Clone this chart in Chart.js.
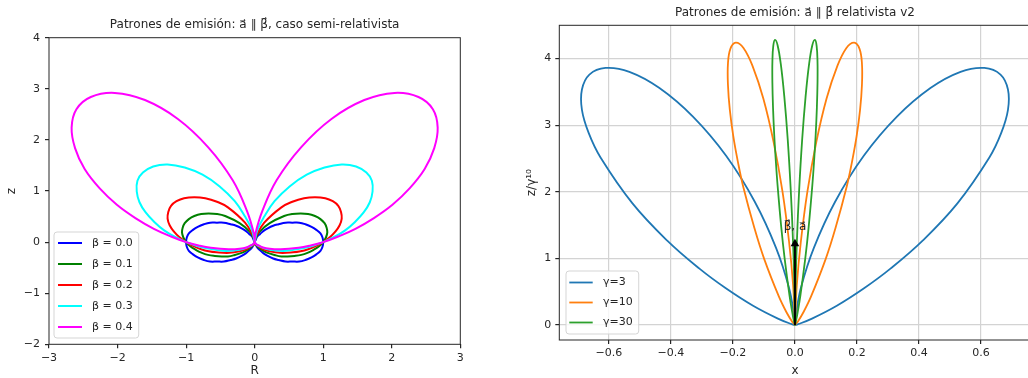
<!DOCTYPE html>
<html>
<head>
<meta charset="utf-8">
<script src="https://cdn.jsdelivr.net/npm/chart.js@4.4.1/dist/chart.umd.min.js"></script>
<style>
  html, body { margin: 0; padding: 0; background: #fff; overflow: hidden; width: 1028px; height: 378px; }
  canvas { position: absolute; top: 0; }
  #semiChart { left: 0; }
  #relChart { left: 500px; }
</style>
</head>
<body>
<canvas id="semiChart" width="500" height="378"></canvas>
<canvas id="relChart" width="540" height="378"></canvas>
<script>
/* ── Emission patterns, a ∥ β — two panels ── */

Chart.defaults.font.family = "'DejaVu Sans', sans-serif";
Chart.defaults.font.size = 11;
Chart.defaults.color = '#262626';

// left panel: right-hand lobe of each curve (R >= 0), the left lobe is its mirror
const BETA = [0.0, 0.1, 0.2, 0.3, 0.4];
const R_B0 = [0, 0.00, 0.01, 0.02, 0.04, 0.08, 0.13, 0.19, 0.27, 0.35, 0.45, 0.55, 0.65, 0.74, 0.83, 0.90, 0.96, 0.99, 1.00,
              0.99, 0.96, 0.90, 0.83, 0.74, 0.65, 0.55, 0.45, 0.35, 0.27, 0.19, 0.13, 0.08, 0.04, 0.02, 0.01, 0.00, 0];
const Z_B0 = [0, 0.01, 0.03, 0.06, 0.11, 0.16, 0.22, 0.27, 0.32, 0.35, 0.38, 0.38, 0.38, 0.35, 0.30, 0.24, 0.17, 0.09, 0,
              -0.09, -0.17, -0.24, -0.30, -0.35, -0.38, -0.38, -0.38, -0.35, -0.32, -0.27, -0.22, -0.16, -0.11, -0.06, -0.03, -0.01, 0];
const R_B1 = [0, 0.01, 0.07, 0.22, 0.43, 0.55, 0.67, 0.78, 0.88, 0.96, 1.02, 1.05, 1.06, 1.04, 1.00,
              0.94, 0.86, 0.77, 0.68, 0.58, 0.48, 0.39, 0.31, 0.17, 0.08, 0.02, 0.00, 0];
const Z_B1 = [0, 0.06, 0.20, 0.37, 0.51, 0.55, 0.56, 0.55, 0.51, 0.45, 0.37, 0.28, 0.19, 0.09, 0,
              -0.08, -0.15, -0.21, -0.25, -0.27, -0.28, -0.28, -0.26, -0.20, -0.13, -0.06, -0.02, 0];
const R_B2 = [0, 0.02, 0.14, 0.39, 0.55, 0.72, 0.88, 1.03, 1.14, 1.22, 1.26, 1.27, 1.24, 1.18, 1.10, 1.00,
              0.89, 0.78, 0.67, 0.56, 0.37, 0.22, 0.11, 0.05, 0.01, 0.00, 0];
const Z_B2 = [0, 0.11, 0.38, 0.68, 0.79, 0.86, 0.88, 0.86, 0.80, 0.71, 0.59, 0.46, 0.33, 0.21, 0.10, 0,
              -0.08, -0.14, -0.18, -0.20, -0.21, -0.18, -0.13, -0.08, -0.04, -0.01, 0];
const R_B3 = [0, 0.04, 0.14, 0.29, 0.51, 0.76, 1.02, 1.27, 1.48, 1.63, 1.71, 1.72, 1.68, 1.59, 1.46, 1.32, 1.16, 1.00,
              0.85, 0.70, 0.46, 0.28, 0.16, 0.08, 0.03, 0.01, 0.00, 0];
const Z_B3 = [0, 0.24, 0.50, 0.80, 1.09, 1.32, 1.46, 1.52, 1.48, 1.36, 1.20, 0.99, 0.78, 0.58, 0.39, 0.23, 0.10, 0,
              -0.07, -0.12, -0.17, -0.16, -0.13, -0.09, -0.05, -0.02, -0.01, 0];
const R_B4 = [0, 0.01, 0.11, 0.32, 0.68, 1.12, 1.60, 2.04, 2.39, 2.60, 2.67, 2.62, 2.48, 2.26, 2.01, 1.74, 1.47, 1.22, 1.00,
              0.80, 0.64, 0.38, 0.22, 0.11, 0.05, 0.02, 0.01, 0.00, 0];
const Z_B4 = [0, 0.16, 0.60, 1.21, 1.86, 2.41, 2.78, 2.92, 2.84, 2.60, 2.24, 1.84, 1.43, 1.05, 0.73, 0.47, 0.26, 0.11, 0,
              -0.07, -0.11, -0.14, -0.13, -0.10, -0.06, -0.04, -0.02, 0.00, 0];
const R_TICKS = [-3, -2, -1, 0, 1, 2, 3];
const Z_TICKS = [-2, -1, 0, 1, 2, 3, 4];

// right panel: right-hand lobe (x >= 0) for each gamma
const GAMMA = [3, 10, 30];
const X_G3 = [0, 0.003, 0.019, 0.061, 0.130, 0.222, 0.329, 0.437, 0.534, 0.611, 0.663, 0.687, 0.687, 0.665, 0.627, 0.524, 0.411, 0.308, 0.224, 0.135, 0.055, 0.010, 0];
const Z_G3 = [0, 0.145, 0.555, 1.158, 1.855, 2.542, 3.130, 3.559, 3.802, 3.860, 3.760, 3.536, 3.231, 2.880, 2.515, 1.826, 1.263, 0.846, 0.555, 0.289, 0.096, 0.012, 0];
const X_G10 = [0, 0.006, 0.019, 0.040, 0.069, 0.102, 0.136, 0.166, 0.191, 0.208, 0.216, 0.216, 0.210, 0.199, 0.184, 0.167, 0.131, 0.099, 0.052, 0.026, 0.009, 0.003, 0];
const Z_G10 = [0, 0.60, 1.25, 2.00, 2.75, 3.40, 3.88, 4.16, 4.24, 4.15, 3.93, 3.60, 3.23, 2.84, 2.45, 2.08, 1.46, 0.99, 0.43, 0.18, 0.05, 0.02, 0];
const X_G30 = [0, 0.0020, 0.0063, 0.0135, 0.0232, 0.0343, 0.0457, 0.0560, 0.0643, 0.0699, 0.0727, 0.0728, 0.0707, 0.0669, 0.0618, 0.0561, 0.0442, 0.0333, 0.0175, 0.0087, 0.0030, 0.0011, 0];
const Z_G30 = [0, 0.60, 1.26, 2.02, 2.78, 3.43, 3.92, 4.20, 4.28, 4.19, 3.96, 3.64, 3.26, 2.86, 2.47, 2.10, 1.47, 1.00, 0.44, 0.19, 0.05, 0.02, 0];
const X_TICKS = [-0.6, -0.4, -0.2, 0, 0.2, 0.4, 0.6];
const ZG_TICKS = [0, 1, 2, 3, 4];
const ARROW_Z = [0, 1.22];
const ARROW_TEXT_Z = 1.47;

const fmt = (v, d) => (v < 0 ? '\u2212' : '') + Math.abs(v).toFixed(d);

// lobe on the right + its mirror image on the left, as one path through the origin
function bothLobes(xs, zs) {
  const right = xs.map((x, i) => ({ x, y: zs[i] }));
  const left = right.slice(0, -1).reverse().map(p => ({ x: -p.x, y: p.y }));
  return right.concat(left);
}

const framePlugin = {
  id: 'frame',
  afterDatasetsDraw(chart) {
    const { ctx, chartArea: a } = chart;
    ctx.save();
    ctx.strokeStyle = '#262626';
    ctx.lineWidth = 1;
    ctx.strokeRect(a.left, a.top, a.right - a.left, a.bottom - a.top);
    ctx.restore();
  },
};

const boxLegend = {
  id: 'boxLegend',
  afterDraw(chart, args, o) {
    const { ctx, chartArea: a } = chart;
    const items = chart.data.datasets.filter(d => d.label);
    ctx.save();
    ctx.font = "11px 'DejaVu Sans'";
    const tw = Math.max(...items.map(d => ctx.measureText(d.label).width));
    const w = o.textX + tw + 6;
    const h = o.first * 2 + o.row * (items.length - 1);
    const x0 = a.left + o.dx, y0 = a.bottom - o.dy - h;
    ctx.fillStyle = 'rgba(255,255,255,0.8)';
    ctx.strokeStyle = '#d5d5d5';
    ctx.lineWidth = 1;
    ctx.beginPath();
    ctx.roundRect(x0, y0, w, h, 3);
    ctx.fill();
    ctx.stroke();
    items.forEach((d, i) => {
      const y = y0 + o.first + i * o.row;
      ctx.strokeStyle = d.borderColor;
      ctx.lineWidth = d.borderWidth;
      ctx.beginPath();
      ctx.moveTo(x0 + o.line[0], y);
      ctx.lineTo(x0 + o.line[1], y);
      ctx.stroke();
      ctx.fillStyle = '#262626';
      ctx.textBaseline = 'middle';
      ctx.fillText(d.label, x0 + o.textX, y);
    });
    ctx.restore();
  },
};

const arrowText = {
  id: 'arrowText',
  afterDatasetsDraw(chart, args, o) {
    if (!o.text) return;
    const { ctx, scales } = chart;
    ctx.save();
    ctx.font = "12px 'DejaVu Sans'";
    ctx.fillStyle = '#262626';
    ctx.textAlign = 'center';
    ctx.textBaseline = 'middle';
    ctx.fillText(o.text, scales.x.getPixelForValue(0), scales.y.getPixelForValue(o.z));
    ctx.restore();
  },
};

function axis(opts) {
  return {
    type: 'linear',
    min: opts.min, max: opts.max,
    afterBuildTicks: s => { s.ticks = opts.ticks.map(v => ({ value: v })); },
    afterFit: s => { if (opts.width) s.width = opts.width; if (opts.height) s.height = opts.height; },
    ticks: { padding: opts.pad, callback: v => fmt(v, opts.dec), color: '#262626' },
    grid: {
      drawOnChartArea: !!opts.grid,
      color: '#d3d3d3', lineWidth: 1.2,
      tickLength: 4, tickColor: '#262626',
    },
    border: { display: false },
    title: {
      display: true, text: opts.title,
      font: { size: 12 }, color: '#262626',
      padding: { top: opts.titlePad || 0, bottom: 0 },
    },
  };
}

function buildChart(canvasId, cfg) {
  new Chart(document.getElementById(canvasId), {
    type: 'scatter',
    data: { datasets: cfg.datasets },
    options: {
      responsive: false,
      animation: false,
      layout: { padding: { left: 0, top: 0, bottom: 0, right: cfg.padRight } },
      plugins: {
        legend: { display: false },
        tooltip: { enabled: false },
        title: {
          display: true, text: cfg.title, fullSize: false,
          font: { size: 12, weight: 'normal' }, color: '#262626',
          padding: cfg.titlePad,
        },
        boxLegend: cfg.legend,
        arrowText: cfg.arrow || {},
      },
      scales: { x: cfg.x, y: cfg.y },
    },
    plugins: [framePlugin, arrowText, boxLegend],
  });
}

const semiColors = ['#0000ff', '#008000', '#ff0000', '#00ffff', '#ff00ff'];
const semiR = [R_B0, R_B1, R_B2, R_B3, R_B4];
const semiZ = [Z_B0, Z_B1, Z_B2, Z_B3, Z_B4];

buildChart('semiChart', {
  title: 'Patrones de emisión: a\u20D7 \u2225 \u03B2\u20D7, caso semi-relativista',
  titlePad: { top: 18, bottom: 5.3 },
  padRight: 39.7,
  datasets: BETA.map((b, i) => ({
    label: `\u03B2 = ${b.toFixed(1)}`,
    data: bothLobes(semiR[i], semiZ[i]),
    showLine: true, pointRadius: 0,
    borderColor: semiColors[i], borderWidth: 2,
    tension: 0.4, order: -i,
  })),
  x: axis({ min: -3, max: 3, ticks: R_TICKS, dec: 0, pad: 3, height: 33.7, title: 'R' }),
  y: axis({ min: -2, max: 4, ticks: Z_TICKS, dec: 0, pad: 5, width: 49, title: 'z', titlePad: 5 }),
  legend: { dx: 5, dy: 6.3, first: 11, row: 21, line: [4, 28], textX: 38 },
});

const relColors = ['#1f77b4', '#ff7f0e', '#2ca02c'];
const relX = [X_G3, X_G10, X_G30];
const relZ = [Z_G3, Z_G10, Z_G30];

const relSets = GAMMA.map((g, i) => ({
  label: `\u03B3=${g}`,
  data: bothLobes(relX[i], relZ[i]),
  showLine: true, pointRadius: 0,
  borderColor: relColors[i], borderWidth: 1.8,
  tension: 0.4, order: -i,
}));
relSets.push({
  data: ARROW_Z.map(z => ({ x: 0, y: z })),
  showLine: true, borderColor: '#000', borderWidth: 2,
  pointRadius: [0, 5], pointStyle: 'triangle',
  pointBackgroundColor: '#000', pointBorderColor: '#000', pointBorderWidth: 0,
  order: -10,
});

buildChart('relChart', {
  title: 'Patrones de emisión: a\u20D7 \u2225 \u03B2\u20D7 relativista v2',
  titlePad: { top: 5.8, bottom: 5.1 },
  padRight: 9.4,
  datasets: relSets,
  x: axis({ min: -0.76, max: 0.76, ticks: X_TICKS, dec: 1, pad: 3, height: 38, title: 'x', grid: true }),
  y: axis({ min: -0.225, max: 4.5, ticks: ZG_TICKS, dec: 0, pad: 4, width: 59.3, title: 'z/\u03B3\u00B9\u2070', titlePad: 25, grid: true }),
  legend: { dx: 6.7, dy: 6, first: 11.5, row: 20, line: [3.3, 26.7], textX: 37 },
  arrow: { text: '\u03B2\u20D7, a\u20D7', z: ARROW_TEXT_Z },
});
</script>
</body>
</html>
